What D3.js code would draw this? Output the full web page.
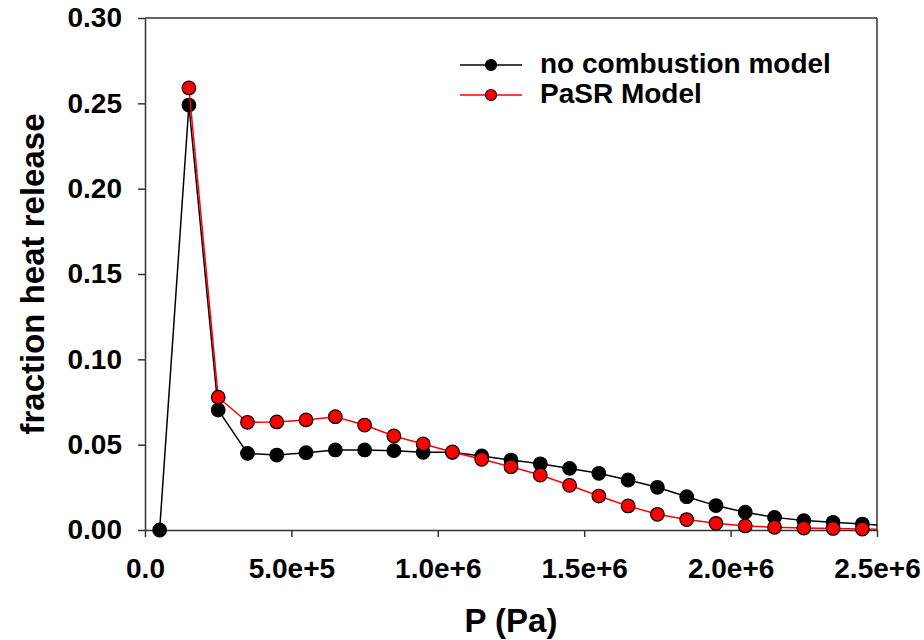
<!DOCTYPE html>
<html>
<head>
<meta charset="utf-8">
<script src="https://cdn.jsdelivr.net/npm/d3@7"></script>
<style>
  body { margin: 0; background: #fff; }
  svg { font-family: "Liberation Sans", Arial, sans-serif; font-weight: bold; }
</style>
</head>
<body>
<div id="chart"></div>
<script>
// pressure (Pa), bin centres
const pressure = [5e4, 1.5e5, 2.5e5, 3.5e5, 4.5e5, 5.5e5, 6.5e5, 7.5e5, 8.5e5, 9.5e5,
  1.05e6, 1.15e6, 1.25e6, 1.35e6, 1.45e6, 1.55e6, 1.65e6, 1.75e6, 1.85e6, 1.95e6,
  2.05e6, 2.15e6, 2.25e6, 2.35e6, 2.45e6, 2.55e6];

const noCombustion = [0, 0.249, 0.0703, 0.0449, 0.0439, 0.0453, 0.0469, 0.0469, 0.0465, 0.0455,
  0.0455, 0.0434, 0.0410, 0.0388, 0.0361, 0.0332, 0.0293, 0.0250, 0.0195, 0.0143,
  0.0104, 0.0074, 0.0055, 0.0045, 0.0035, 0.0025];

// PaSR starts at the second bin
const pasr = [null, 0.259, 0.0778, 0.0631, 0.0633, 0.0645, 0.0664, 0.0615, 0.0551, 0.0504,
  0.0457, 0.0414, 0.0371, 0.0322, 0.0262, 0.0199, 0.0141, 0.0092, 0.0061, 0.0039,
  0.0024, 0.0016, 0.0011, 0.0009, 0.0006, 0.0004];

const xTicks = [0, 5e5, 1e6, 1.5e6, 2e6, 2.5e6];
const yTicks = [0, 0.05, 0.10, 0.15, 0.20, 0.25, 0.30];

const seriesNames = ["no combustion model", "PaSR Model"];
const seriesColors = ["#000", "#ff0000"];

const width = 924, height = 640;
const margin = {top: 18, right: 47, bottom: 110, left: 145};
const axisColor = "#333";

const x = d3.scaleLinear().domain([0, 2.5e6]).range([margin.left, width - margin.right]);
const y = d3.scaleLinear().domain([0, 0.30]).range([height - margin.bottom, margin.top]);

const svg = d3.select("#chart").append("svg")
    .attr("width", width)
    .attr("height", height);

// clip markers/lines at the right frame only
svg.append("clipPath").attr("id", "clip")
  .append("rect")
    .attr("x", 0).attr("y", 0)
    .attr("width", x.range()[1]).attr("height", height);

// frame: top and right
svg.append("line")
    .attr("x1", x.range()[0]).attr("x2", x.range()[1])
    .attr("y1", y(0.30)).attr("y2", y(0.30))
    .attr("stroke", axisColor).attr("stroke-width", 1.5);
svg.append("line")
    .attr("x1", x.range()[1]).attr("x2", x.range()[1])
    .attr("y1", y(0.30)).attr("y2", y(0))
    .attr("stroke", axisColor).attr("stroke-width", 1.5);

// axes
const xAxis = svg.append("g")
    .attr("transform", `translate(0,${y(0)})`)
    .call(d3.axisBottom(x).tickValues(xTicks)
      .tickSize(7).tickSizeOuter(0).tickPadding(21)
      .tickFormat(d => d === 0 ? "0.0" : d3.format(".1e")(d)));

const yAxis = svg.append("g")
    .attr("transform", `translate(${x(0)},0)`)
    .call(d3.axisLeft(y).tickValues(yTicks)
      .tickSize(7).tickSizeOuter(0).tickPadding(16)
      .tickFormat(d3.format(".2f")));

[xAxis, yAxis].forEach(g => {
  g.select(".domain").attr("stroke", axisColor).attr("stroke-width", 1.5);
  g.selectAll(".tick line").attr("stroke", axisColor).attr("stroke-width", 1.5);
  g.selectAll(".tick text")
    .attr("fill", "#000")
    .style("font-family", "'Liberation Sans', Arial, sans-serif")
    .style("font-weight", "bold")
    .style("font-size", "28px");
});

// axis titles
svg.append("text")
    .attr("x", (x.range()[0] + x.range()[1]) / 2)
    .attr("y", 632)
    .attr("text-anchor", "middle")
    .style("font-size", "33px")
    .text("P (Pa)");

svg.append("text")
    .attr("transform", `translate(44,${(y.range()[0] + y.range()[1]) / 2}) rotate(-90)`)
    .attr("text-anchor", "middle")
    .style("font-size", "33px")
    .text("fraction heat release");

// series
const plot = svg.append("g").attr("clip-path", "url(#clip)");
const line = d3.line()
    .defined(d => d[1] !== null)
    .x(d => x(d[0]))
    .y(d => y(d[1]));

[noCombustion, pasr].forEach((vals, i) => {
  const pts = pressure.map((p, j) => [p, vals[j]]);
  plot.append("path")
      .datum(pts)
      .attr("fill", "none")
      .attr("stroke", seriesColors[i])
      .attr("stroke-width", 1.5)
      .attr("d", line);
  plot.append("g")
    .selectAll("circle")
    .data(pts.filter(d => d[1] !== null))
    .join("circle")
      .attr("cx", d => x(d[0]))
      .attr("cy", d => y(d[1]))
      .attr("r", 6.8)
      .attr("fill", seriesColors[i])
      .attr("stroke", "#000")
      .attr("stroke-width", 1.2);
});

// legend
const legend = svg.append("g");
seriesNames.forEach((name, i) => {
  const ly = 65 + i * 30;
  legend.append("line")
      .attr("x1", 460).attr("x2", 522)
      .attr("y1", ly).attr("y2", ly)
      .attr("stroke", seriesColors[i]).attr("stroke-width", 1.5);
  legend.append("circle")
      .attr("cx", 491).attr("cy", ly).attr("r", 5.5)
      .attr("fill", seriesColors[i]).attr("stroke", "#000").attr("stroke-width", 1.2);
  legend.append("text")
      .attr("x", 540).attr("y", ly)
      .attr("dy", "0.3em")
      .style("font-size", "28px")
      .text(name);
});
</script>
</body>
</html>
